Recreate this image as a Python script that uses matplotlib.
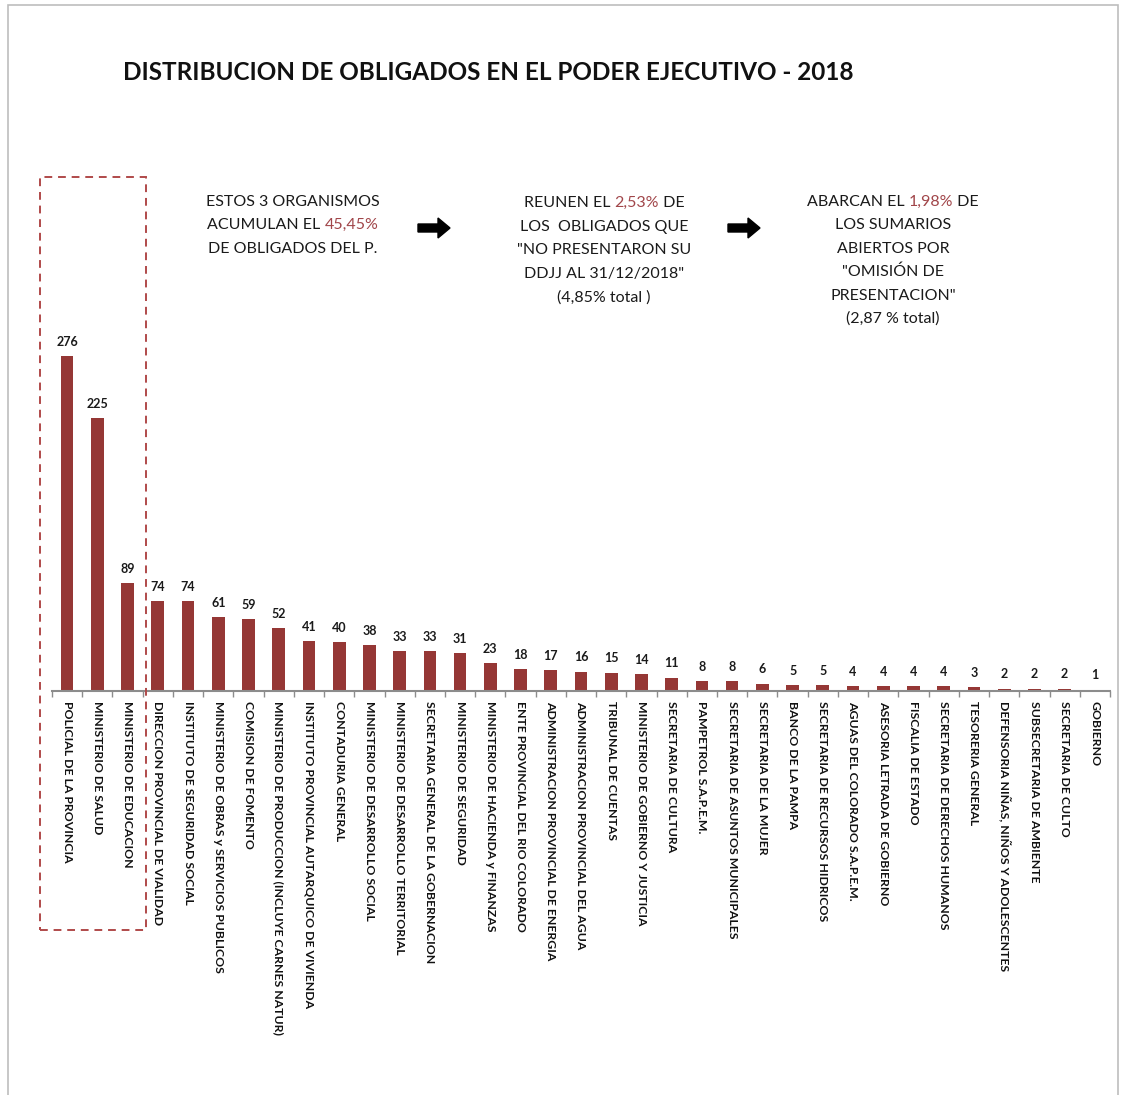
import matplotlib
matplotlib.use("Agg")
import matplotlib.pyplot as plt
import matplotlib.patches as mpatches
import numpy as np

organismos = [
    "POLICIAL DE LA PROVINCIA",
    "MINISTERIO DE SALUD",
    "MINISTERIO DE EDUCACION",
    "DIRECCION PROVINCIAL DE VIALIDAD",
    "INSTITUTO DE SEGURIDAD SOCIAL",
    "MINISTERIO DE OBRAS y SERVICIOS PUBLICOS",
    "COMISION DE FOMENTO",
    "MINISTERIO DE PRODUCCION (INCLUYE CARNES NATUR)",
    "INSTITUTO PROVINCIAL AUTARQUICO DE VIVIENDA",
    "CONTADURIA GENERAL",
    "MINISTERIO DE DESARROLLO SOCIAL",
    "MINISTERIO DE DESARROLLO TERRITORIAL",
    "SECRETARIA GENERAL DE LA GOBERNACION",
    "MINISTERIO DE SEGURIDAD",
    "MINISTERIO DE HACIENDA y FINANZAS",
    "ENTE PROVINCIAL DEL RIO COLORADO",
    "ADMINISTRACION PROVINCIAL DE ENERGIA",
    "ADMINISTRACION PROVINCIAL DEL AGUA",
    "TRIBUNAL DE CUENTAS",
    "MINISTERIO DE GOBIERNO Y JUSTICIA",
    "SECRETARIA DE CULTURA",
    "PAMPETROL S.A.P.E.M.",
    "SECRETARIA DE ASUNTOS MUNICIPALES",
    "SECRETARIA DE LA MUJER",
    "BANCO DE LA PAMPA",
    "SECRETARIA DE RECURSOS HIDRICOS",
    "AGUAS DEL COLORADO S.A.P.E.M.",
    "ASESORIA LETRADA DE GOBIERNO",
    "FISCALIA DE ESTADO",
    "SECRETARIA DE DERECHOS HUMANOS",
    "TESORERIA GENERAL",
    "DEFENSORIA NIÑAS, NIÑOS Y ADOLESCENTES",
    "SUBSECRETARIA DE AMBIENTE",
    "SECRETARIA DE CULTO",
    "GOBIERNO",
]
obligados = [276, 225, 89, 74, 74, 61, 59, 52, 41, 40, 38, 33, 33, 31, 23, 18,
             17, 16, 15, 14, 11, 8, 8, 6, 5, 5, 4, 4, 4, 4, 3, 2, 2, 2, 1]

titulo = "DISTRIBUCION DE OBLIGADOS EN EL PODER EJECUTIVO - 2018"

# notes: list of lines, each line a list of (text, highlighted)
nota1 = [
    [("ESTOS 3 ORGANISMOS", False)],
    [("ACUMULAN EL ", False), ("45,45%", True)],
    [("DE OBLIGADOS DEL P.", False)],
]
nota2 = [
    [("REUNEN EL ", False), ("2,53%", True), (" DE", False)],
    [("LOS  OBLIGADOS QUE", False)],
    [('"NO PRESENTARON SU', False)],
    [('DDJJ AL 31/12/2018"', False)],
    [("(4,85% total )", False)],
]
nota3 = [
    [("ABARCAN EL ", False), ("1,98%", True), (" DE", False)],
    [("LOS SUMARIOS", False)],
    [("ABIERTOS POR", False)],
    [('"OMISIÓN DE', False)],
    [('PRESENTACION"', False)],
    [("(2,87 % total)", False)],
]

BAR = "#953735"
HIGH = "#a1464a"
FONT = "Lato"

W, H = 1123, 1095
fig = plt.figure(figsize=(W / 100, H / 100), dpi=100)
ax = fig.add_axes([52 / W, 1 - 691 / H, 1058 / W, 0.3324])

x = np.arange(len(obligados))
ax.bar(x, obligados, width=0.42, color=BAR)
for xi, v in zip(x, obligados):
    ax.annotate(str(v), (xi, v), xytext=(0, 6), textcoords="offset points",
                ha="center", va="bottom", fontsize=9, fontweight="bold",
                family=FONT, color="#1a1a1a")

ax.set_xlim(-0.5, len(obligados) - 0.5)
ax.set_ylim(0, 300)
ax.set_yticks([])
for s in ["left", "right", "top"]:
    ax.spines[s].set_visible(False)
ax.spines["bottom"].set_color("#8c8c8c")
ax.spines["bottom"].set_linewidth(1.5)

ax.set_xticks(x)
ax.set_xticklabels(organismos, rotation=270, ha="center", va="top",
                   fontsize=8.8, fontweight="bold", family=FONT, color="#111111")
ax.tick_params(axis="x", which="major", length=0, pad=7)
ax.set_xticks(np.arange(len(obligados) + 1) - 0.5, minor=True)
ax.tick_params(axis="x", which="minor", length=4, color="#8c8c8c", width=1)

fig.text(488 / W, 1 - 73 / H, titulo, ha="center", va="center",
         fontsize=17.5, fontweight="bold", family=FONT, color="#111111")

# dashed box around first three organisms
fig.patches.append(mpatches.Rectangle(
    (40 / W, 1 - 930 / H), 106 / W, 753 / H, transform=fig.transFigure,
    fill=False, edgecolor="#b04a4a", linestyle=(0, (4, 3)), linewidth=1.4))

# light border around whole chart
fig.patches.append(mpatches.Rectangle(
    (8 / W, -0.01), 1110 / W, 1.01 - 5 / H, transform=fig.transFigure,
    fill=False, edgecolor="#bdbdbd", linewidth=1.2))

renderer = fig.canvas.get_renderer()


def draw_note(lines, cx, y0, step):
    for k, parts in enumerate(lines):
        y = 1 - (y0 + k * step) / H
        texts = []
        widths = []
        for txt, hi in parts:
            t = fig.text(0, y, txt, ha="left", va="center", fontsize=11.5,
                         family=FONT, color=HIGH if hi else "#1a1a1a")
            bb = t.get_window_extent(renderer)
            texts.append(t)
            widths.append(bb.width)
        start = cx - sum(widths) / 2
        for t, w in zip(texts, widths):
            t.set_x(start / W)
            start += w


draw_note(nota1, 293, 202, 23.3)
draw_note(nota2, 604, 203, 23.6)
draw_note(nota3, 893, 202, 23.4)

for ax0 in (418, 728):
    fig.patches.append(mpatches.FancyArrow(
        ax0 / W, 1 - 228 / H, 32 / W, 0, width=8 / H, head_width=20 / H,
        head_length=12 / W, length_includes_head=True, transform=fig.transFigure,
        color="black"))

fig.savefig("out.png", dpi=100)
